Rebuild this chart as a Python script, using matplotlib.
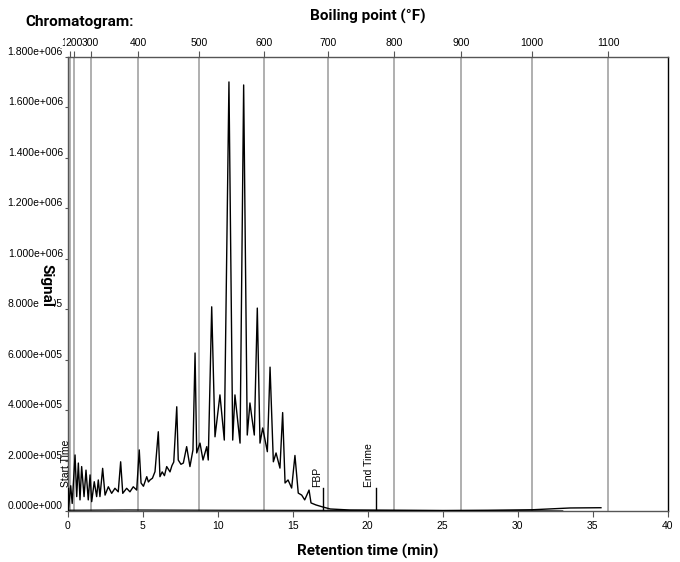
import matplotlib
matplotlib.use("Agg")
import matplotlib.pyplot as plt

# ---------------- data ----------------
# Retention time (min) and signal (in units of 1e5 counts)
ret_time = [0.0, 0.05, 0.2, 0.3, 0.49, 0.6, 0.71, 0.82, 0.93, 1.09, 1.22, 1.37, 1.49, 1.6,
            1.77, 1.93, 2.04, 2.15, 2.33, 2.49, 2.71, 2.93, 3.15, 3.37, 3.53, 3.67, 3.93,
            4.15, 4.37, 4.6, 4.77, 4.89, 5.05, 5.27, 5.38, 5.49, 5.65, 5.82, 6.04, 6.15,
            6.3, 6.45, 6.6, 6.82, 6.95, 7.07, 7.27, 7.37, 7.55, 7.71, 7.93, 8.15, 8.35,
            8.49, 8.6, 8.82, 9.02, 9.27, 9.37, 9.6,
            9.82, 10.15, 10.44, 10.75, 11.0, 11.15, 11.49, 11.73, 11.97, 12.15, 12.27,
            12.44, 12.64, 12.82, 13.0, 13.31, 13.49, 13.71, 13.89, 14.15, 14.33, 14.49,
            14.69, 14.93, 15.15, 15.37, 15.6, 15.8, 16.09, 16.22, 16.55, 17.0, 17.5,
            18.8, 22.0, 25.0, 28.0, 31.0, 33.5, 35.55]
signal_e5 = [0.0, 0.1, 1.0, 0.3, 2.22, 0.57, 1.90, 0.44, 1.76, 0.57, 1.62, 0.44, 1.43, 0.37,
             1.16, 0.57, 1.23, 0.57, 1.69, 0.63, 0.96, 0.70, 0.90, 0.76, 1.95, 0.70, 0.90,
             0.76, 0.96, 0.83, 2.42, 1.11, 0.98, 1.36, 1.15, 1.23, 1.30, 1.56, 3.14, 1.36,
             1.55, 1.40, 1.76, 1.55, 1.80, 1.94, 4.13, 2.02, 1.85, 1.90, 2.55, 1.76, 2.42,
             6.26, 2.30, 2.69, 2.02, 2.55, 2.02, 8.09,
             2.94, 4.60, 2.81, 17.0, 2.81, 4.60, 2.69, 16.88, 3.01, 4.28, 3.74,
             3.01, 8.04, 2.69, 3.29, 2.35, 5.70, 1.95, 2.30, 1.70, 3.90, 1.11,
             1.23, 0.91, 2.20, 0.71, 0.63, 0.44, 0.83, 0.32, 0.24, 0.16, 0.08,
             0.04, 0.03, 0.02, 0.03, 0.05, 0.12, 0.13]

# Blank / baseline trace
blank_time = [0.0, 4.0, 10.0, 20.0, 30.0, 33.0]
blank_e5 = [0.03, 0.04, 0.03, 0.02, 0.01, 0.0]

SCALE = 1e5

# Boiling point (°F) scale vs. retention time
bp_temps = [100, 200, 300, 400, 500, 600, 700, 800, 900, 1000, 1100]
bp_times = [0.12, 0.42, 1.53, 4.69, 8.75, 13.09, 17.35, 21.75, 26.2, 30.93, 36.02]

# Event markers
event_names = ["Start Time", "FBP", "End Time"]
event_times = [0.0, 17.04, 20.55]

x_ticks = [0, 5, 10, 15, 20, 25, 30, 35, 40]
y_ticks = [0, 2e5, 4e5, 6e5, 8e5, 1e6, 1.2e6, 1.4e6, 1.6e6, 1.8e6]
y_tick_labels = ["0.000e+000", "2.000e+005", "4.000e+005", "6.000e+005", "8.000e+005",
                 "1.000e+006", "1.200e+006", "1.400e+006", "1.600e+006", "1.800e+006"]

# ---------------- figure ----------------
W, H = 680, 562
fig = plt.figure(figsize=(W / 100, H / 100), dpi=100)
ax = fig.add_axes([67.7 / W, 1 - 511 / H, 600 / W, (511 - 56.7) / H])

tick_font = ["Liberation Sans", "DejaVu Sans"]
title_font = ["Roboto", "DejaVu Sans"]

# boiling point grid lines
for t in bp_times:
    ax.axvline(t, color="#9a9a9a", lw=1.1, zorder=1)

ax.plot(blank_time, [v * SCALE for v in blank_e5], color="black", lw=0.9, zorder=2)
ax.plot(ret_time, [v * SCALE for v in signal_e5], color="black", lw=1.0, zorder=3)

ax.set_xlim(0, 40)
ax.set_ylim(0, 1.8e6)

ax.set_xticks(x_ticks)
ax.set_xticklabels([str(v) for v in x_ticks], fontfamily=tick_font, fontsize=7.5)
ax.set_yticks(y_ticks)
ax.set_yticklabels(y_tick_labels, fontfamily=tick_font, fontsize=7.5)
for lbl in ax.get_yticklabels():
    lbl.set_verticalalignment("bottom")
ax.tick_params(axis="x", direction="out", length=4, width=0.8, pad=3, color="#555555")
ax.tick_params(axis="y", direction="out", length=2.5, width=0.8, pad=1, color="#555555")

for side in ["left", "bottom", "top"]:
    ax.spines[side].set_color("#555555")
    ax.spines[side].set_linewidth(1.0)
ax.spines["right"].set_color("black")
ax.spines["right"].set_linewidth(1.0)

# top axis: boiling point
ax2 = ax.twiny()
ax2.set_xlim(ax.get_xlim())
ax2.set_xticks(bp_times)
ax2.set_xticklabels([str(v) for v in bp_temps], fontfamily=tick_font, fontsize=7.5)
ax2.tick_params(axis="x", direction="out", length=4.5, width=0.8, pad=2, color="#555555")
for lbl in ax2.get_xticklabels():
    lbl.set_bbox(dict(facecolor="white", edgecolor="none", pad=0.3))
for side in ["left", "bottom", "top", "right"]:
    ax2.spines[side].set_visible(False)

# event markers
for name, t in zip(event_names, event_times):
    top = 0.9e5
    ax.plot([t, t], [0.0, top], color="black", lw=1.0, zorder=4)
    if name == "Start Time":
        ax.text(t - 0.1, top + 0.05e5, name, rotation=90, ha="center", va="bottom",
                fontsize=7.5, fontfamily=tick_font, zorder=5)
    else:
        ax.text(t - 0.1, top + 0.05e5, name, rotation=90, ha="right", va="bottom",
                fontsize=7.5, fontfamily=tick_font, zorder=5)

# titles
fig.text(80 / W, 1 - 21.7 / H, "Chromatogram:", fontsize=11, fontweight="bold",
         fontfamily=title_font, ha="center", va="center")
fig.text(368 / W, 1 - 16.7 / H, "Boiling point (°F)", fontsize=11, fontweight="bold",
         fontfamily=title_font, ha="center", va="center")
fig.text(368 / W, 1 - 551 / H, "Retention time (min)", fontsize=11, fontweight="bold",
         fontfamily=title_font, ha="center", va="center")
fig.text(46.7 / W, 1 - 285.5 / H, "Signal", fontsize=11, fontweight="bold",
         fontfamily=title_font, ha="center", va="center", rotation=-90,
         bbox=dict(facecolor="white", edgecolor="none", pad=0.5))

fig.savefig("out.png", dpi=100)
